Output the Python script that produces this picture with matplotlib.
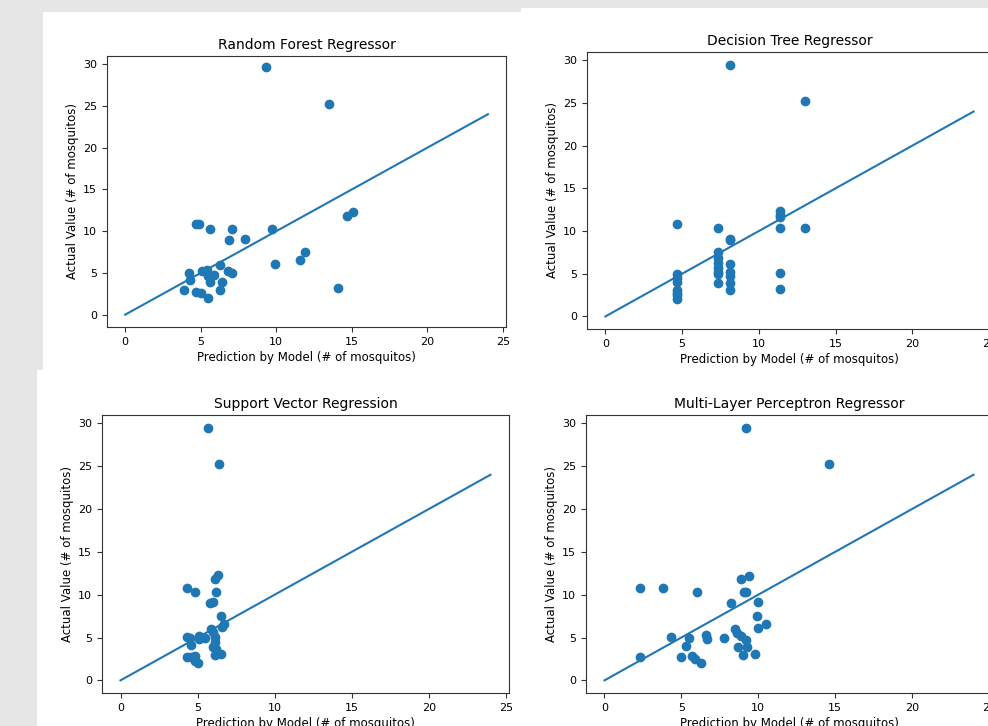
import matplotlib
matplotlib.use("Agg")
import matplotlib.pyplot as plt
from matplotlib.patches import Rectangle
import numpy as np

plt.rcParams['font.family'] = ['DejaVu Sans']

# Random Forest Regressor
rf_pred = [9.3, 13.5, 14.7, 15.1, 4.7, 4.9, 5.6, 7.1, 9.7, 6.9, 7.9, 11.9, 11.6, 9.9, 6.3,
           4.2, 5.1, 5.4, 5.9, 6.8, 7.1, 4.3, 5.6, 6.4, 3.9, 6.3, 4.7, 5.0, 5.5, 14.1, 5.5]
rf_actual = [29.6, 25.2, 11.8, 12.3, 10.8, 10.8, 10.3, 10.3, 10.3, 9.0, 9.1, 7.5, 6.6, 6.1, 6.0,
             5.0, 5.2, 5.4, 4.8, 5.2, 5.0, 4.1, 3.9, 3.9, 3.0, 3.0, 2.7, 2.6, 2.0, 3.2, 4.6]

# Decision Tree Regressor
dt_pred = [4.67] * 8 + [7.35] * 8 + [8.15] * 8 + [11.36] * 6 + [13.04] * 2
dt_actual = [10.8, 5.0, 4.5, 4.0, 3.1, 2.7, 2.5, 2.0,
             10.3, 7.5, 6.8, 6.3, 5.7, 5.2, 5.0, 3.9,
             29.5, 9.1, 8.9, 6.1, 5.2, 4.7, 3.9, 3.1,
             12.3, 11.9, 11.7, 10.3, 5.1, 3.2,
             25.2, 10.3]

# Support Vector Regression
svr_pred = [5.7, 6.4, 6.3, 6.1, 4.3, 4.8, 6.2, 5.8, 6.0, 6.5, 6.7, 6.6, 5.9, 4.3, 5.1, 5.1,
            5.5, 6.0, 6.1, 6.1, 4.6, 6.0, 6.2, 6.1, 6.5, 4.3, 4.6, 4.8, 5.0, 4.5, 4.8]
svr_actual = [29.5, 25.2, 12.3, 11.8, 10.8, 10.3, 10.3, 9.0, 9.1, 7.5, 6.6, 6.2, 6.0, 5.1, 5.2, 4.8,
              4.9, 5.6, 5.1, 4.5, 4.1, 3.9, 3.7, 3.0, 3.1, 2.7, 2.7, 2.9, 2.0, 5.0, 2.3]

# Multi-Layer Perceptron Regressor
mlp_pred = [9.2, 14.6, 8.9, 9.4, 2.3, 3.8, 6.0, 9.1, 9.2, 8.2, 10.0, 9.9, 10.0, 10.5, 8.5, 8.6,
            8.9, 9.2, 4.3, 5.5, 6.6, 6.7, 7.8, 5.3, 8.7, 9.3, 2.3, 5.0, 5.7, 5.9, 6.3, 9.0, 9.8]
mlp_actual = [29.5, 25.2, 11.8, 12.2, 10.8, 10.8, 10.3, 10.3, 10.3, 9.0, 9.1, 7.5, 6.1, 6.6, 6.0, 5.5,
              5.2, 4.7, 5.1, 4.9, 5.3, 4.8, 4.9, 4.0, 3.9, 3.9, 2.7, 2.7, 2.9, 2.5, 2.0, 3.0, 3.1]

titles = ["Random Forest Regressor", "Decision Tree Regressor",
          "Support Vector Regression", "Multi-Layer Perceptron Regressor"]
ref_line = [0, 24]
xticks = [0, 5, 10, 15, 20, 25]
yticks = [0, 5, 10, 15, 20, 25, 30]
xlabel = "Prediction by Model (# of mosquitos)"
ylabel = "Actual Value (# of mosquitos)"

W, H = 988, 726
fig = plt.figure(figsize=(W / 100, H / 100), dpi=100, facecolor="#e6e6e6")

def fx(px):
    return px / W

def fy(py):
    return 1 - py / H

# white screenshot panels (x0, y0, x1, y1) in pixels
panels = [(43, 12, 521, 370), (521, 8, 988, 370), (37, 370, 521, 726), (521, 370, 988, 726)]
for (x0, y0, x1, y1) in panels:
    fig.patches.append(Rectangle((fx(x0), fy(y1)), fx(x1 - x0), (y1 - y0) / H,
                                 transform=fig.transFigure, facecolor="white",
                                 edgecolor="none", zorder=-10))

# axes boxes (left, top, right, bottom) in pixels
boxes = [(107, 56, 506, 327), (587, 52, 992, 329), (102, 415, 509, 693), (586, 415, 992, 693)]
data = [(rf_pred, rf_actual), (dt_pred, dt_actual), (svr_pred, svr_actual), (mlp_pred, mlp_actual)]

for (l, t, r, b), (px, ay), title in zip(boxes, data, titles):
    ax = fig.add_axes([fx(l), fy(b), (r - l) / W, (b - t) / H])
    ax.set_zorder(1)
    ax.scatter(px, ay, s=36, color="#1f77b4", zorder=3)
    ax.plot(ref_line, ref_line, color="#1f77b4", lw=1.5)
    ax.set_xlim(-1.2, 25.2)
    ax.set_ylim(-1.475, 30.975)
    ax.set_xticks(xticks)
    ax.set_yticks(yticks)
    ax.tick_params(labelsize=8, length=3.5, width=0.8, colors="#333333", labelcolor="black")
    for s in ax.spines.values():
        s.set_linewidth(0.8)
        s.set_color("#333333")
    ax.set_title(title, fontsize=10, pad=5)
    ax.set_xlabel(xlabel, fontsize=8.5, labelpad=3)
    ax.set_ylabel(ylabel, fontsize=8.5, labelpad=3)

fig.savefig("out.png", dpi=100, facecolor=fig.get_facecolor())
